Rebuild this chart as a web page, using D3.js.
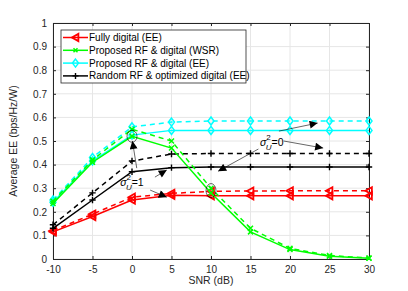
<!DOCTYPE html>
<html>
<head>
<meta charset="utf-8">
<script src="https://cdn.jsdelivr.net/npm/d3@7"></script>
<style>
  body { margin: 0; background: #fff; }
  svg { font-family: "Liberation Sans", Arial, sans-serif; }
</style>
</head>
<body>
<div id="chart"></div>
<script>
// SNR points (dB)
const snr = [-10, -5, 0, 5, 10, 15, 20, 25, 30];

// Fully digital (EE)
const fullySolid  = [0.115, 0.18, 0.25, 0.27, 0.268, 0.268, 0.268, 0.268, 0.268];
const fullyDashed = [0.12, 0.19, 0.262, 0.278, 0.287, 0.288, 0.289, 0.289, 0.289];
// Proposed RF & digital (WSR)
const wsrSolid  = [0.235, 0.41, 0.52, 0.47, 0.28, 0.115, 0.04, 0.012, 0.003];
const wsrDashed = [0.245, 0.42, 0.55, 0.5, 0.3, 0.13, 0.045, 0.015, 0.004];
// Proposed RF & digital (EE)
const eeSolid  = [0.24, 0.415, 0.525, 0.545, 0.545, 0.545, 0.545, 0.545, 0.545];
const eeDashed = [0.25, 0.43, 0.56, 0.58, 0.585, 0.585, 0.585, 0.585, 0.585];
// Random RF & optimized digital (EE)
const randSolid  = [0.13, 0.25, 0.37, 0.387, 0.39, 0.39, 0.39, 0.39, 0.39];
const randDashed = [0.145, 0.28, 0.415, 0.445, 0.447, 0.447, 0.447, 0.447, 0.447];

const xTicks = [-10, -5, 0, 5, 10, 15, 20, 25, 30];
const yTicks = [0, 0.1, 0.2, 0.3, 0.4, 0.5, 0.6, 0.7, 0.8, 0.9, 1];

const legendNames = ['Fully digital (EE)', 'Proposed RF & digital (WSR)',
                     'Proposed RF & digital (EE)', 'Random RF & optimized digital (EE)'];

const series = [
    { values: fullySolid,  color: '#ff0000', marker: 'tri',  dash: null },
    { values: fullyDashed, color: '#ff0000', marker: 'tri',  dash: '5,4' },
    { values: eeSolid,     color: '#00ffff', marker: 'diam', dash: null },
    { values: eeDashed,    color: '#00ffff', marker: 'diam', dash: '5,4' },
    { values: randSolid,   color: '#000000', marker: 'plus', dash: null },
    { values: randDashed,  color: '#000000', marker: 'plus', dash: '5,4' },
    { values: wsrSolid,    color: '#00ff00', marker: 'x',    dash: null },
    { values: wsrDashed,   color: '#00ff00', marker: 'x',    dash: '5,4' }
];

const width = 408, height = 291;
const margin = { top: 23, right: 39, bottom: 32, left: 53 };
const w = width - margin.left - margin.right;
const h = height - margin.top - margin.bottom;

const svg = d3.select('#chart').append('svg')
    .attr('width', width).attr('height', height);

const defs = svg.append('defs');
defs.append('marker')
    .attr('id', 'arrow')
    .attr('viewBox', '0 0 10 10')
    .attr('refX', 10).attr('refY', 5)
    .attr('markerWidth', 10).attr('markerHeight', 8)
    .attr('markerUnits', 'userSpaceOnUse')
    .attr('orient', 'auto')
    .append('path').attr('d', 'M0,0L10,5L0,10Z').attr('fill', '#000');

const g = svg.append('g').attr('transform', `translate(${margin.left},${margin.top})`);

const x = d3.scaleLinear().domain([-10, 30]).range([0, w]);
const y = d3.scaleLinear().domain([0, 1]).range([h, 0]);

// grid
g.append('g').selectAll('line').data(xTicks).join('line')
    .attr('x1', d => x(d)).attr('x2', d => x(d)).attr('y1', 0).attr('y2', h)
    .attr('stroke', '#e6e6e6').attr('stroke-width', 1);
g.append('g').selectAll('line').data(yTicks).join('line')
    .attr('x1', 0).attr('x2', w).attr('y1', d => y(d)).attr('y2', d => y(d))
    .attr('stroke', '#e6e6e6').attr('stroke-width', 1);

// axes (MATLAB style: ticks inside, box all round)
const tickColor = '#262626';
g.append('g').attr('transform', `translate(0,${h})`)
    .call(d3.axisBottom(x).tickValues(xTicks).tickSize(-3).tickPadding(7)
        .tickFormat(d => String(d)));
g.append('g')
    .call(d3.axisLeft(y).tickValues(yTicks).tickSize(-3).tickPadding(6)
        .tickFormat(d => d === 0 || d === 1 ? String(d) : d3.format('.1f')(d)));
g.append('g').call(d3.axisTop(x).tickValues(xTicks).tickSize(-3).tickFormat(''));
g.append('g').attr('transform', `translate(${w},0)`)
    .call(d3.axisRight(y).tickValues(yTicks).tickSize(-3).tickFormat(''));
g.selectAll('.domain, .tick line').attr('stroke', tickColor);
g.selectAll('.tick text').attr('fill', tickColor).style('font-size', '10px');

// lines
const line = d3.line().x((d, i) => x(snr[i])).y(d => y(d));

function drawMarker(sel, type, color, size) {
    const s = size;
    if (type === 'tri') {
        sel.append('path').attr('d', `M${-s},0L${s * 0.8},${-s}L${s * 0.8},${s}Z`)
            .attr('fill', 'none').attr('stroke', color).attr('stroke-width', 1.8);
    } else if (type === 'diam') {
        sel.append('path').attr('d', `M0,${-s}L${s * 0.75},0L0,${s}L${-s * 0.75},0Z`)
            .attr('fill', 'none').attr('stroke', color).attr('stroke-width', 1.5);
    } else if (type === 'plus') {
        sel.append('path').attr('d', `M${-s},0H${s}M0,${-s}V${s}`)
            .attr('stroke', color).attr('stroke-width', 1.4);
    } else {
        sel.append('path').attr('d', `M${-s},${-s}L${s},${s}M${-s},${s}L${s},${-s}`)
            .attr('stroke', color).attr('stroke-width', 1.5);
    }
}

const sizes = { tri: 3.6, diam: 4, plus: 3.2, x: 2.5 };
series.forEach(sr => {
    g.append('path').datum(sr.values)
        .attr('d', line)
        .attr('fill', 'none')
        .attr('stroke', sr.color)
        .attr('stroke-width', 1.5)
        .attr('stroke-dasharray', sr.dash);
    sr.values.forEach((v, i) => {
        const m = g.append('g').attr('transform', `translate(${x(snr[i])},${y(v)})`);
        drawMarker(m, sr.marker, sr.color, sizes[sr.marker]);
    });
});

// annotations
const ellipses = [[0, 0.52, 5, 6], [10, 0.29, 5, 7]];
ellipses.forEach(e => {
    g.append('ellipse').attr('cx', x(e[0])).attr('cy', y(e[1]))
        .attr('rx', e[2]).attr('ry', e[3])
        .attr('fill', 'none').attr('stroke', '#000').attr('stroke-width', 0.6);
});

const arrows = [
    [0.6, 0.385, 0.05, 0.5],
    [2.9, 0.347, 4.4, 0.377],
    [2.3, 0.292, 4.4, 0.262],
    [18.6, 0.542, 23.5, 0.576],
    [19.2, 0.5, 24.2, 0.47],
    [16.0, 0.466, 10.9, 0.372]
];
arrows.forEach(a => {
    g.append('line')
        .attr('x1', x(a[0])).attr('y1', y(a[1]))
        .attr('x2', x(a[2])).attr('y2', y(a[3]))
        .attr('stroke', '#000').attr('stroke-width', 0.6)
        .attr('marker-end', 'url(#arrow)');
});

function sigmaLabel(sx, sy, val) {
    const t = g.append('text').attr('x', x(sx)).attr('y', y(sy))
        .style('font-size', '10.5px').attr('fill', '#000');
    t.append('tspan').text('σ').style('font-style', 'italic');
    t.append('tspan').attr('dy', -6).style('font-size', '8px').text('2');
    t.append('tspan').attr('dy', 10).attr('dx', -5).style('font-size', '8px')
        .style('font-style', 'italic').text('U');
    t.append('tspan').attr('dy', -4).text('=' + val);
}
sigmaLabel(-1.5, 0.31, 1);
sigmaLabel(16.2, 0.478, 0);

// axis labels
svg.append('text')
    .attr('x', margin.left + w / 2).attr('y', height - 7)
    .attr('text-anchor', 'middle').attr('fill', tickColor)
    .style('font-size', '10.5px').text('SNR (dB)');
svg.append('text')
    .attr('transform', `translate(17,${margin.top + h / 2}) rotate(-90)`)
    .attr('text-anchor', 'middle').attr('fill', tickColor)
    .style('font-size', '10.5px').text('Average EE (bps/Hz/W)');

// legend
const legend = g.append('g').attr('transform', 'translate(8,7)');
legend.append('rect').attr('width', 185).attr('height', 53)
    .attr('fill', '#fff').attr('stroke', '#262626').attr('stroke-width', 0.8);
const legendStyle = [
    { color: '#ff0000', marker: 'tri',  size: 3.6 },
    { color: '#00ff00', marker: 'x',    size: 2 },
    { color: '#00ffff', marker: 'diam', size: 4 },
    { color: '#000000', marker: 'plus', size: 3 }
];
legendNames.forEach((name, i) => {
    const ly = 7.5 + i * 12.8;
    const st = legendStyle[i];
    legend.append('line').attr('x1', 2).attr('x2', 27).attr('y1', ly).attr('y2', ly)
        .attr('stroke', st.color).attr('stroke-width', 1.5);
    drawMarker(legend.append('g').attr('transform', `translate(14.5,${ly})`), st.marker, st.color, st.size);
    legend.append('text').attr('x', 28).attr('y', ly + 3.5)
        .style('font-size', '10px').attr('fill', '#000').text(name);
});
</script>
</body>
</html>
